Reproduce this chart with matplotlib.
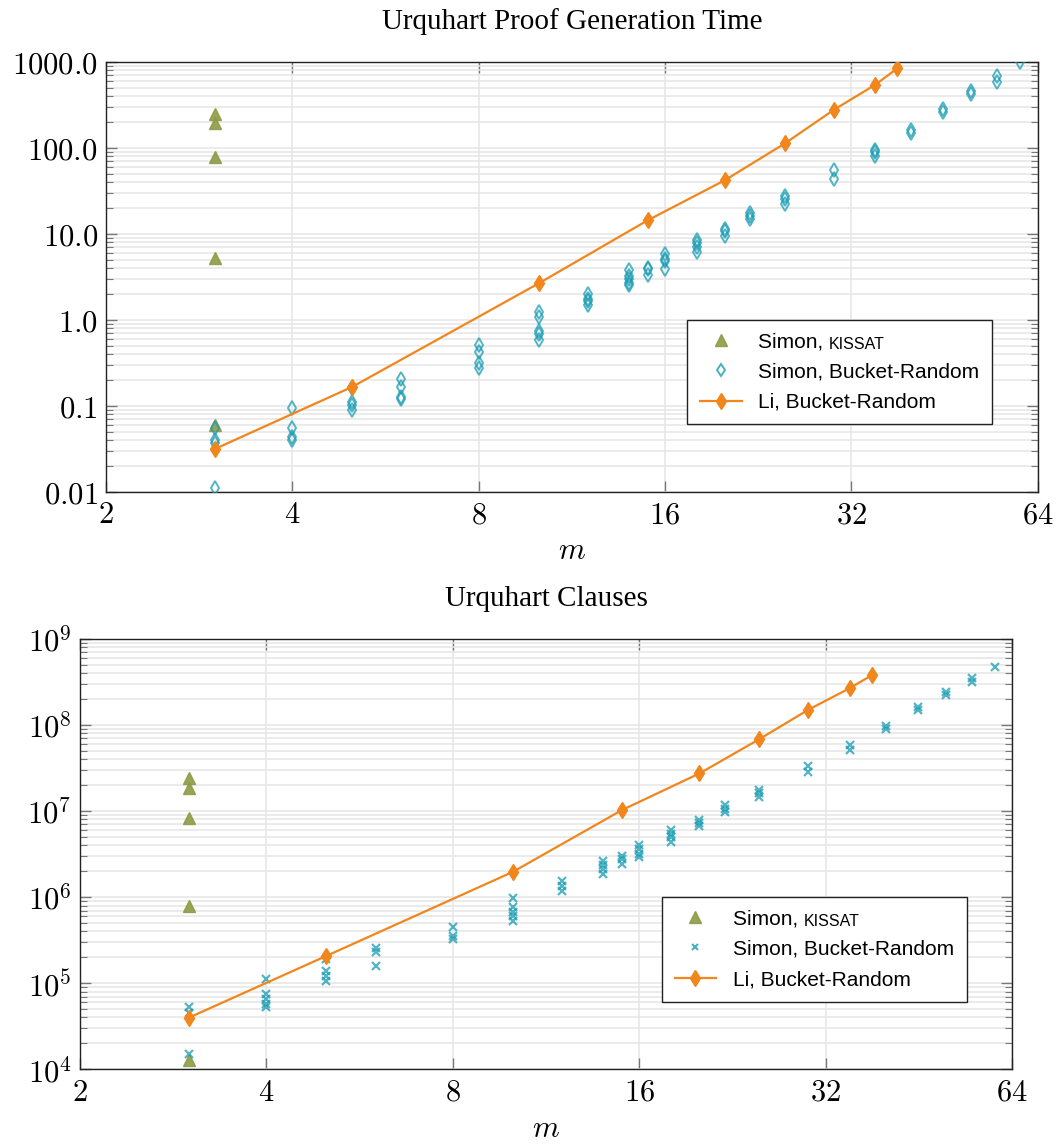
import numpy as np
import matplotlib
matplotlib.use("Agg")
import matplotlib.pyplot as plt
from matplotlib.ticker import FixedLocator, FixedFormatter, LogLocator, NullLocator, NullFormatter
from matplotlib.lines import Line2D
from matplotlib.font_manager import FontProperties

plt.rcParams['mathtext.fontset'] = 'cm'

################################
# x = m, the Urquhart parameter
m_ticks = [2, 4, 8, 16, 32, 64]

kissat_m = [3, 3, 3, 3, 3]
kissat_time = [250, 195, 78, 5.2, 0.060]
kissat_clauses = [2.4e7, 1.85e7, 8.3e6, 7.8e5, 1.28e4]

simon_m = ([3]*4 + [4]*4 + [5]*4 + [6]*4 + [8]*4 + [10]*5 + [12]*4 + [14]*5 + [15]*3
           + [16]*4 + [18]*4 + [20]*3 + [22]*3 + [25]*3 + [30]*2 + [35]*3 + [40]*2
           + [45]*2 + [50]*2 + [55]*2 + [60])
simon_time = [0.056, 0.040, 0.037, 0.0111,
              0.095, 0.056, 0.044, 0.040,
              0.164, 0.112, 0.103, 0.090,
              0.207, 0.167, 0.128, 0.12,
              0.516, 0.429, 0.319, 0.279,
              1.23, 1.09, 0.74, 0.68, 0.58,
              2.03, 1.76, 1.65, 1.51,
              3.8, 3.29, 2.96, 2.71, 2.52,
              4.05, 3.87, 3.38,
              5.78, 5.15, 4.83, 3.94,
              8.5, 7.9, 7.1, 6.1,
              11.5, 10.8, 9.6,
              17.7, 16.2, 14.8,
              27.7, 25.3, 22.1,
              55.6, 44.1,
              95, 88.7, 80.9,
              164, 151,
              283, 264,
              463, 424,
              692, 589,
              1000]

simon_cl_m = ([3]*3 + [4]*5 + [5]*4 + [6]*3 + [8]*3 + [10]*5 + [12]*3 + [14]*4 + [15]*3
              + [16]*4 + [18]*4 + [20]*3 + [22]*3 + [25]*3 + [30]*2 + [35]*2 + [40]*2
              + [45]*2 + [50]*2 + [55]*2 + [60])
simon_clauses = [5.36e4, 4.56e4, 1.49e4,
                 1.13e5, 7.45e4, 6.5e4, 5.7e4, 5.36e4,
                 1.9e5, 1.39e5, 1.22e5, 1.06e5,
                 2.6e5, 2.28e5, 1.59e5,
                 4.56e5, 3.55e5, 3.25e5,
                 9.9e5, 7.6e5, 6.75e5, 6.06e5, 5.3e5,
                 1.55e6, 1.35e6, 1.19e6,
                 2.64e6, 2.36e6, 2.12e6, 1.85e6,
                 3.02e6, 2.77e6, 2.42e6,
                 4.03e6, 3.61e6, 3.16e6, 2.9e6,
                 6.06e6, 5.4e6, 4.94e6, 4.33e6,
                 7.9e6, 7.25e6, 6.64e6,
                 1.17e7, 1.05e7, 9.8e6,
                 1.77e7, 1.62e7, 1.44e7,
                 3.36e7, 2.86e7,
                 5.85e7, 5.16e7,
                 9.66e7, 8.97e7,
                 1.61e8, 1.49e8,
                 2.44e8, 2.25e8,
                 3.49e8, 3.14e8,
                 4.76e8]

li_m = [3, 5, 10, 15, 20, 25, 30, 35, 38]
li_time = [0.0317, 0.167, 2.66, 14.4, 42.2, 113, 278, 544, 845]
li_clauses = [3.99e4, 2.08e5, 1.97e6, 1.03e7, 2.74e7, 6.87e7, 1.51e8, 2.69e8, 3.81e8]

time_ticks = [0.01, 0.1, 1, 10, 100, 1000]
time_labels = ['0.01', '0.1', '1.0', '10.0', '100.0', '1000.0']
clause_ticks = [1e4, 1e5, 1e6, 1e7, 1e8, 1e9]
clause_labels = [r'10^{4}', r'10^{5}', r'10^{6}', r'10^{7}', r'10^{8}', r'10^{9}']
################################

OLIVE = '#8e9a45'
TEAL = '#1a9db3'
ORANGE = '#f0861c'
GRID = '#e6e6e6'
LEG_PROP = FontProperties(family='Liberation Sans', size=15)


def style_axes(ax, yticks, ylabels, ylim):
    ax.set_xscale('log', base=2)
    ax.set_yscale('log')
    ax.set_xlim(2, 64)
    ax.set_ylim(*ylim)
    ax.xaxis.set_major_locator(FixedLocator(m_ticks))
    ax.xaxis.set_major_formatter(FixedFormatter(['$%d$' % t for t in m_ticks]))
    ax.xaxis.set_minor_locator(NullLocator())
    ax.yaxis.set_major_locator(FixedLocator(yticks))
    ax.yaxis.set_major_formatter(FixedFormatter(['$%s$' % l for l in ylabels]))
    ax.yaxis.set_minor_locator(LogLocator(base=10, subs=np.arange(2, 10), numticks=20))
    ax.yaxis.set_minor_formatter(NullFormatter())
    ax.grid(True, which='major', color=GRID, lw=1.1, zorder=0)
    ax.grid(True, which='minor', axis='y', color=GRID, lw=1.1, zorder=0)
    ax.set_axisbelow(True)
    ax.tick_params(which='both', direction='in', top=True, right=True, color='#777777',
                   labelsize=22, pad=6)
    ax.tick_params(which='major', length=8, width=1)
    ax.tick_params(which='minor', length=5, width=0.8)
    for s in ax.spines.values():
        s.set_color('#222222')
        s.set_linewidth(1.0)
    ax.set_xlabel('$m$', fontsize=22, labelpad=5)


def add_legend(ax, simon_marker, simon_ms, simon_mew):
    handles = [
        Line2D([], [], ls='none', marker='^', ms=8, color=OLIVE, alpha=0.9),
        Line2D([], [], ls='none', marker=simon_marker, ms=simon_ms, mew=simon_mew,
               mfc='none' if simon_marker == 'd' else TEAL, mec=TEAL, alpha=0.8),
        Line2D([], [], color=ORANGE, lw=1.6, marker='d', ms=8),
    ]
    labels = ['Simon, ', 'Simon, Bucket-Random', 'Li, Bucket-Random']
    leg = ax.legend(handles, labels, loc='lower right', bbox_to_anchor=(0.951, 0.157),
                    borderaxespad=0, prop=LEG_PROP, fancybox=False,
                    framealpha=1, edgecolor='#222222', borderpad=0.6,
                    handlelength=2.0, handletextpad=0.8, labelspacing=0.55)
    leg.get_frame().set_linewidth(1.0)
    return leg


fig = plt.figure(figsize=(10.61, 11.45), dpi=100)
ax1 = fig.add_axes([106/1061, 1-492/1145, 931.5/1061, 430/1145])
ax2 = fig.add_axes([80/1061, 1-1069.3/1145, 932.3/1061, 430.3/1145])

# top: proof generation time
ax1.plot(kissat_m, kissat_time, ls='none', marker='^', ms=8.5, color=OLIVE, alpha=0.9, zorder=3)
ax1.plot(simon_m, simon_time, ls='none', marker='d', ms=7.5, mew=1.4, mfc='none',
         mec=TEAL, alpha=0.75, zorder=3)
ax1.plot(li_m, li_time, color=ORANGE, lw=1.6, marker='d', ms=8.5, zorder=4)
style_axes(ax1, time_ticks, time_labels, (0.01, 1000))
ax1.set_title('Urquhart Proof Generation Time', family='Liberation Serif', fontsize=21, pad=24)
leg1 = add_legend(ax1, 'd', 6, 1.4)

# bottom: clauses
ax2.plot(kissat_m, kissat_clauses, ls='none', marker='^', ms=8.5, color=OLIVE, alpha=0.9, zorder=3)
ax2.plot(simon_cl_m, simon_clauses, ls='none', marker='x', ms=5.5, mew=1.6,
         color=TEAL, alpha=0.75, zorder=3)
ax2.plot(li_m, li_clauses, color=ORANGE, lw=1.6, marker='d', ms=8.5, zorder=4)
style_axes(ax2, clause_ticks, clause_labels, (1e4, 1e9))
ax2.set_title('Urquhart Clauses', family='Liberation Serif', fontsize=21, pad=24)
leg2 = add_legend(ax2, 'x', 5, 1.5)

# small caps KISSAT after "Simon, "
fig.canvas.draw()
r = fig.canvas.get_renderer()
for leg in (leg1, leg2):
    t = leg.get_texts()[0]
    bb = t.get_window_extent(r)
    _, _, descent = r.get_text_width_height_descent('Simon, ', LEG_PROP, ismath=False)
    fig.text(bb.x1 / fig.bbox.width, (bb.y0 + descent) / fig.bbox.height, 'KISSAT',
             family='Liberation Sans', fontsize=11.5, va='baseline', ha='left', zorder=10)

fig.savefig('out.png', dpi=100)
